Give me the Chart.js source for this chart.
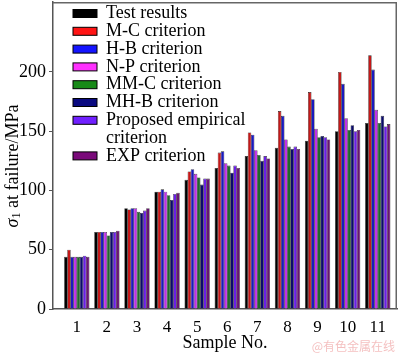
<!DOCTYPE html>
<html>
<head>
<meta charset="utf-8">
<script src="https://cdn.jsdelivr.net/npm/chart.js@4"></script>
<style>
html, body { margin: 0; padding: 0; background: #fff; }
#wrap { width: 400px; height: 354px; position: relative; }
</style>
</head>
<body>
<div id="wrap"><canvas id="chart"></canvas></div>
<script>
"use strict";

// Sample numbers on the x axis
const samples = [1, 2, 3, 4, 5, 6, 7, 8, 9, 10, 11];
const yTicks = [0, 50, 100, 150, 200];

// sigma_1 at failure (MPa)
const testResults = [44, 65, 85, 99, 109, 119, 129, 136, 142, 150, 157];
const mcCriterion = [50, 65, 84, 99, 116, 132, 149, 167, 183, 200, 214];
const hbCriterion = [44, 65, 85, 101, 118, 133, 147, 163, 177, 190, 202];
const npCriterion = [44, 65, 85, 99, 114, 123, 134, 143, 152, 161, 168];
const mmcCriterion = [44, 62, 82, 96, 111, 121, 130, 137, 145, 151, 157];
const mhbCriterion = [44, 65, 81, 92, 105, 115, 125, 135, 146, 155, 163];
const proposedCriterion = [45, 65, 83, 97, 110, 121, 129, 137, 145, 150, 154];
const expCriterion = [44, 66, 85, 98, 110, 119, 127, 135, 143, 151, 156];

const seriesLabels = ["Test results", "M-C criterion", "H-B criterion", "N-P criterion",
    "MM-C criterion", "MH-B criterion", "Proposed empirical\ncriterion", "EXP criterion"];
const seriesValues = [testResults, mcCriterion, hbCriterion, npCriterion,
    mmcCriterion, mhbCriterion, proposedCriterion, expCriterion];
const seriesColors = ["#000000", "#ff1414", "#1414ff", "#ff30ff",
    "#188a18", "#0a0a80", "#7020ff", "#7a0a7a"];
const barColors = ["#000000", "#c41818", "#1a1ac0", "#c030e8",
    "#1f6a2a", "#0a0a6a", "#6a1ee8", "#6a1470"];

const serif = "'Liberation Serif', 'Times New Roman', serif";

// Legend, frame, axis title and watermark drawn on top
const decorPlugin = {
    id: "decor",
    afterDraw: function (chart) {
        const ctx = chart.ctx;
        const area = chart.chartArea;
        ctx.save();

        // top and right frame
        ctx.strokeStyle = "#666";
        ctx.lineWidth = 1.5;
        ctx.beginPath();
        ctx.moveTo(area.left, area.top + 0.75);
        ctx.lineTo(area.right - 0.75, area.top + 0.75);
        ctx.lineTo(area.right - 0.75, area.bottom);
        ctx.stroke();

        // legend inside the plot
        ctx.font = "18px " + serif;
        ctx.textBaseline = "middle";
        ctx.textAlign = "left";
        let y = 13.5;
        chart.data.datasets.forEach(function (ds, i) {
            ctx.fillStyle = seriesColors[i];
            ctx.fillRect(73, y - 4, 24, 8);
            ctx.strokeStyle = "#000";
            ctx.lineWidth = 1;
            ctx.strokeRect(73, y - 4, 24, 8);
            ctx.fillStyle = "#000";
            ds.label.split("\n").forEach(function (line) {
                ctx.fillText(line, 106, y);
                y += 17.8;
            });
        });

        // y axis title with subscript
        ctx.translate(13, 166);
        ctx.rotate(-Math.PI / 2);
        ctx.textBaseline = "middle";
        const parts = [
            { t: "σ", f: "italic 18px " + serif, dy: 0 },
            { t: "1", f: "12px " + serif, dy: 4 },
            { t: " at failure/MPa", f: "18px " + serif, dy: 0 }
        ];
        let total = 0;
        parts.forEach(function (p) { ctx.font = p.f; total += ctx.measureText(p.t).width; });
        let x = -total / 2;
        ctx.fillStyle = "#000";
        parts.forEach(function (p) {
            ctx.font = p.f;
            ctx.fillText(p.t, x, p.dy);
            x += ctx.measureText(p.t).width;
        });
        ctx.restore();

        // watermark
        ctx.save();
        ctx.font = "12px 'Noto Sans CJK SC', sans-serif";
        ctx.fillStyle = "rgba(235, 140, 140, 0.55)";
        ctx.textAlign = "right";
        ctx.textBaseline = "middle";
        ctx.fillText("@有色金属在线", 395, 346);
        ctx.restore();
    }
};

// bars overlap a little so no light seams show between them
const datasets = seriesValues.map(function (vals, i) {
    return {
        label: seriesLabels[i],
        data: samples.map(function (s, j) { return { x: s, y: vals[j] }; }),
        backgroundColor: barColors[i],
        borderColor: "rgba(0,0,0,0.85)",
        borderWidth: 0.6,
        categoryPercentage: 0.83,
        barPercentage: 1.12
    };
});

const ctx = document.getElementById("chart").getContext("2d");
new Chart(ctx, {
    type: "bar",
    data: { datasets: datasets },
    options: {
        responsive: true,
        maintainAspectRatio: false,
        animation: false,
        layout: { padding: { top: 2, right: 3, left: 0, bottom: 0 } },
        scales: {
            x: {
                type: "linear",
                offset: false,
                min: 0.21,
                max: 11.64,
                afterBuildTicks: function (scale) {
                    scale.ticks = samples.map(function (v) { return { value: v }; });
                },
                afterFit: function (scale) {
                    scale.height = 45;
                    scale.paddingLeft = 0;
                    scale.paddingRight = 0;
                },
                grid: { display: false },
                border: { display: true, color: "#555", width: 1.5 },
                ticks: {
                    color: "#000",
                    font: { family: serif, size: 17 },
                    padding: 0,
                    maxRotation: 0,
                    autoSkip: false
                },
                title: {
                    display: true,
                    text: "Sample No.",
                    color: "#000",
                    font: { family: serif, size: 18 },
                    padding: { top: 0, bottom: 0 }
                }
            },
            y: {
                min: 0,
                max: 259,
                afterBuildTicks: function (scale) {
                    scale.ticks = yTicks.map(function (v) { return { value: v }; });
                },
                afterFit: function (scale) {
                    scale.width = 53;
                    scale.paddingTop = 0;
                    scale.paddingBottom = 0;
                },
                grid: { drawOnChartArea: false, drawTicks: true, tickLength: 4, color: "#555" },
                border: { display: true, color: "#555", width: 1.5 },
                ticks: {
                    color: "#000",
                    font: { family: serif, size: 18 },
                    padding: 3
                }
            }
        },
        plugins: {
            legend: { display: false },
            tooltip: { enabled: false }
        }
    },
    plugins: [decorPlugin]
});
</script>
</body>
</html>
